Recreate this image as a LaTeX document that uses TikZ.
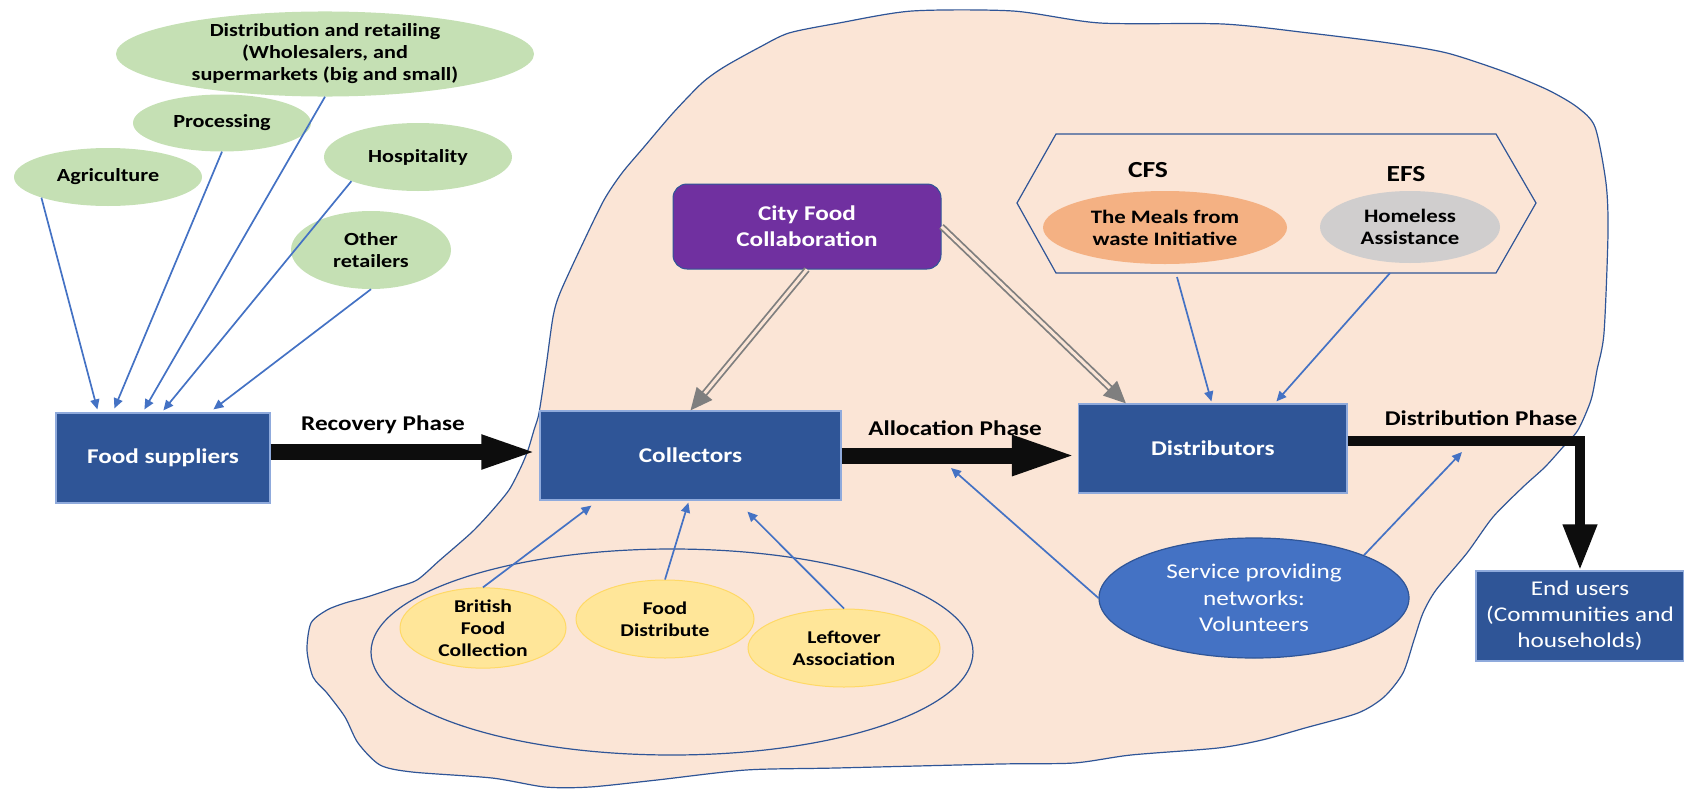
\documentclass[tikz,border=0pt]{standalone}
\usepackage{fontspec}
\setmainfont{Carlito}[FakeStretch=1.2]
\usetikzlibrary{arrows.meta,calc,shapes.geometric}
\definecolor{blobfill}{HTML}{FBE5D6}
\definecolor{blobline}{HTML}{2F5597}
\definecolor{boxblue}{HTML}{2F5597}
\definecolor{boxborder}{HTML}{8FAADC}
\definecolor{greenell}{HTML}{C5E0B4}
\definecolor{yellowell}{HTML}{FFE699}
\definecolor{yellowline}{HTML}{FFD966}
\definecolor{arrowblue}{HTML}{4472C4}
\definecolor{cfcpurple}{HTML}{7030A0}
\definecolor{mealsfill}{HTML}{F4B183}
\definecolor{homefill}{HTML}{D0CECE}
\definecolor{grayarrow}{HTML}{7F7F7F}
\definecolor{heavy}{HTML}{0D0D0D}
\tikzset{
  bluebox/.style={rectangle, fill=boxblue, draw=boxborder, line width=1.2pt, text=white, inner sep=0pt, align=center},
  greenell/.style={ellipse, fill=greenell, draw=none, inner sep=0pt, align=center, font=\fontsize{18.5}{22}\selectfont\bfseries},
  yellowell/.style={ellipse, fill=yellowell, draw=yellowline, line width=1pt, inner sep=0pt, align=center, font=\fontsize{18}{22}\selectfont\bfseries},
  barrow/.style={draw=arrowblue, line width=1.7pt, -{Triangle[length=10pt,width=9pt]}},
  heavyarrow/.style={draw=heavy, line width=16pt},
  gdouble/.style={draw=grayarrow, line width=1.8pt, double=blobfill, double distance=3pt, -{Triangle[length=22pt,width=20pt]}},
  phase/.style={font=\fontsize{21}{24}\selectfont\bfseries, inner sep=0pt},
}
\begin{document}
\begin{tikzpicture}[x=1pt,y=-1pt]
\useasboundingbox (0,0) rectangle (1684,790);
% blob
\draw[fill=blobfill, draw=blobline, line width=1.2pt] plot[smooth cycle, tension=0.45] coordinates {
(1000,764) (1074,763) (1131,755) (1218,748) (1262,740) (1305,728) (1358,713) (1384,697) (1403,673) (1414,640) (1423,613) (1436,590) (1467,553) (1493,517) (1523,487) (1545,467) (1563,447) (1578,430) (1591,400) (1597,370) (1604,333) (1608,233) (1606,183) (1595,127) (1577,107) (1548,90) (1505,72) (1447,53) (1389,43) (1309,33) (1223,24) (1100,23) (1013,11) (912,11) (839,23) (789,33) (760,47) (724,67) (702,83) (673,113) (644,147) (622,173) (604,200) (582,245) (560,293) (553,317) (546,367) (539,413) (534,430) (528,450) (521,467) (509,490) (490,513) (471,533) (440,560) (417,580) (394,588) (367,597) (345,603) (327,610) (311,623) (307,650) (313,677) (327,693) (345,717) (358,743) (380,765) (412,772) (492,778) (545,787) (590,787) (657,780) (746,770) (836,768)};
% outer collector ellipse
\node[ellipse, draw=blobline, line width=1.2pt, minimum width=602pt, minimum height=206pt, inner sep=0pt] (outer) at (672,652) {};
% hexagon
\draw[draw=blobline, line width=1.2pt] (1017,203) coordinate (hexL) -- (1056,134) -- (1496,134) -- (1536,203) coordinate (hexR) -- (1496,273) -- (1056,273) -- cycle;
\coordinate (hexA) at (1177,277);
\coordinate (hexB) at (1390,273);
% green ellipses
\node[greenell, minimum width=418pt, minimum height=78pt] (distr) at (325,54) {Distribution and retailing\\(Wholesalers, and\\supermarkets (big and small)};
\node[greenell, minimum width=178pt, minimum height=57pt] (proc) at (222,123) {Processing};
\node[greenell, minimum width=188pt, minimum height=58pt] (agri) at (108,177) {Agriculture};
\node[greenell, minimum width=188pt, minimum height=68pt] (hosp) at (418,157) {Hospitality};
\node[greenell, minimum width=160pt, minimum height=78pt] (other) at (371,250) {Other\\retailers};
% boxes
\node[bluebox, minimum width=214pt, minimum height=90pt, font=\fontsize{21}{25}\selectfont\bfseries] (fs) at (163,458) {Food suppliers};
\node[bluebox, minimum width=301pt, minimum height=89pt, font=\fontsize{21}{25}\selectfont\bfseries] (coll) at (690.5,455.5) {Collectors};
\node[bluebox, minimum width=268.5pt, minimum height=89pt, font=\fontsize{21}{25}\selectfont\bfseries] (dist) at (1212.75,448.5) {Distributors};
\node[bluebox, minimum width=208pt, minimum height=90pt, font=\fontsize{21}{26}\selectfont] (eu) at (1580,616) {End users\\(Communities and\\households)};
\node[rectangle, rounded corners=14pt, fill=cfcpurple, draw=boxblue, line width=1pt, text=white, minimum width=268pt, minimum height=85pt, inner sep=0pt, align=center, font=\fontsize{21}{26}\selectfont\bfseries] (cfc) at (807,226.5) {City Food\\Collaboration};
% hexagon contents
\node[font=\fontsize{23}{26}\selectfont\bfseries, inner sep=0pt] (cfs) at (1148,170) {CFS};
\node[font=\fontsize{23}{26}\selectfont\bfseries, inner sep=0pt] (efs) at (1406,174) {EFS};
\node[ellipse, fill=mealsfill, inner sep=0pt, minimum width=244pt, minimum height=73pt, align=center, font=\fontsize{19}{22}\selectfont\bfseries] (meals) at (1165,227.5) {The Meals from\\waste Initiative};
\node[ellipse, fill=homefill, inner sep=0pt, minimum width=180pt, minimum height=72pt, align=center, font=\fontsize{19}{22}\selectfont\bfseries] (home) at (1410,227) {Homeless\\Assistance};
% yellow ellipses
\node[yellowell, minimum width=166pt, minimum height=76pt] (brit) at (483,628) {British\\Food\\Collection};
\node[yellowell, minimum width=178pt, minimum height=78pt] (fdist) at (665,619) {Food\\Distribute};
\node[yellowell, minimum width=192pt, minimum height=78pt] (left) at (844,648) {Leftover\\Association};
% service
\node[ellipse, fill=arrowblue, draw=boxblue, line width=1.2pt, inner sep=0pt, minimum width=310pt, minimum height=120pt, text=white, align=center, font=\fontsize{21}{26.5}\selectfont] (serv) at (1254,598) {Service providing\\networks:\\Volunteers};
\coordinate (volA) at (1462,452);
\coordinate (volB) at (951,468);
% phase labels
\node[phase] (recl) at (383,425) {Recovery Phase};
\node[phase] (alll) at (955,428) {Allocation Phase};
\node[phase] (disl) at (1481,418) {Distribution Phase};
% heavy arrows
\coordinate (rA) at ([yshift=6pt]fs.east);
\draw[heavyarrow, -{Triangle[length=58pt,width=30pt]}] (rA) -- (rA -| coll.west);
\draw[heavyarrow, -{Triangle[length=66pt,width=36pt]}] (coll.east) -- (coll.east -| dist.west);
\coordinate (dA) at ([yshift=7.5pt]dist.east);
\draw[draw=heavy, line width=10pt, line join=miter, -{Triangle[length=46pt,width=32pt]}] (dA) -| (eu.north);
% gray double arrows
\draw[gdouble] (cfc.south) -- (coll.north);
\draw[gdouble] (cfc.east) -- ([xshift=48pt]dist.north west);
% blue arrows to food suppliers
\draw[barrow] (agri.south west) -- ([xshift=42pt,yshift=3pt]fs.north west);
\draw[barrow] (proc.south) -- ([xshift=59pt,yshift=4pt]fs.north west);
\draw[barrow] (distr.south) -- ([xshift=89pt,yshift=3pt]fs.north west);
\draw[barrow] (hosp.south west) -- ([xshift=108pt,yshift=2pt]fs.north west);
\draw[barrow] (other.south) -- ([xshift=158pt,yshift=3pt]fs.north west);
% blue arrows to collectors
\draw[barrow] (brit.north) -- ([xshift=52pt,yshift=-5pt]coll.south west);
\draw[barrow] (fdist.north) -- ([xshift=149pt,yshift=-2pt]coll.south west);
\draw[barrow] (left.north) -- ([xshift=208pt,yshift=-11pt]coll.south west);
% blue arrows to distributors
\draw[barrow] (hexA) -- ([xshift=133.5pt,yshift=2pt]dist.north west);
\draw[barrow] (hexB) -- ([xshift=198.5pt,yshift=2pt]dist.north west);
% volunteers
\draw[barrow] (serv.north east) -- (volA);
\draw[barrow] (serv.west) -- (volB);
\end{tikzpicture}
\end{document}
